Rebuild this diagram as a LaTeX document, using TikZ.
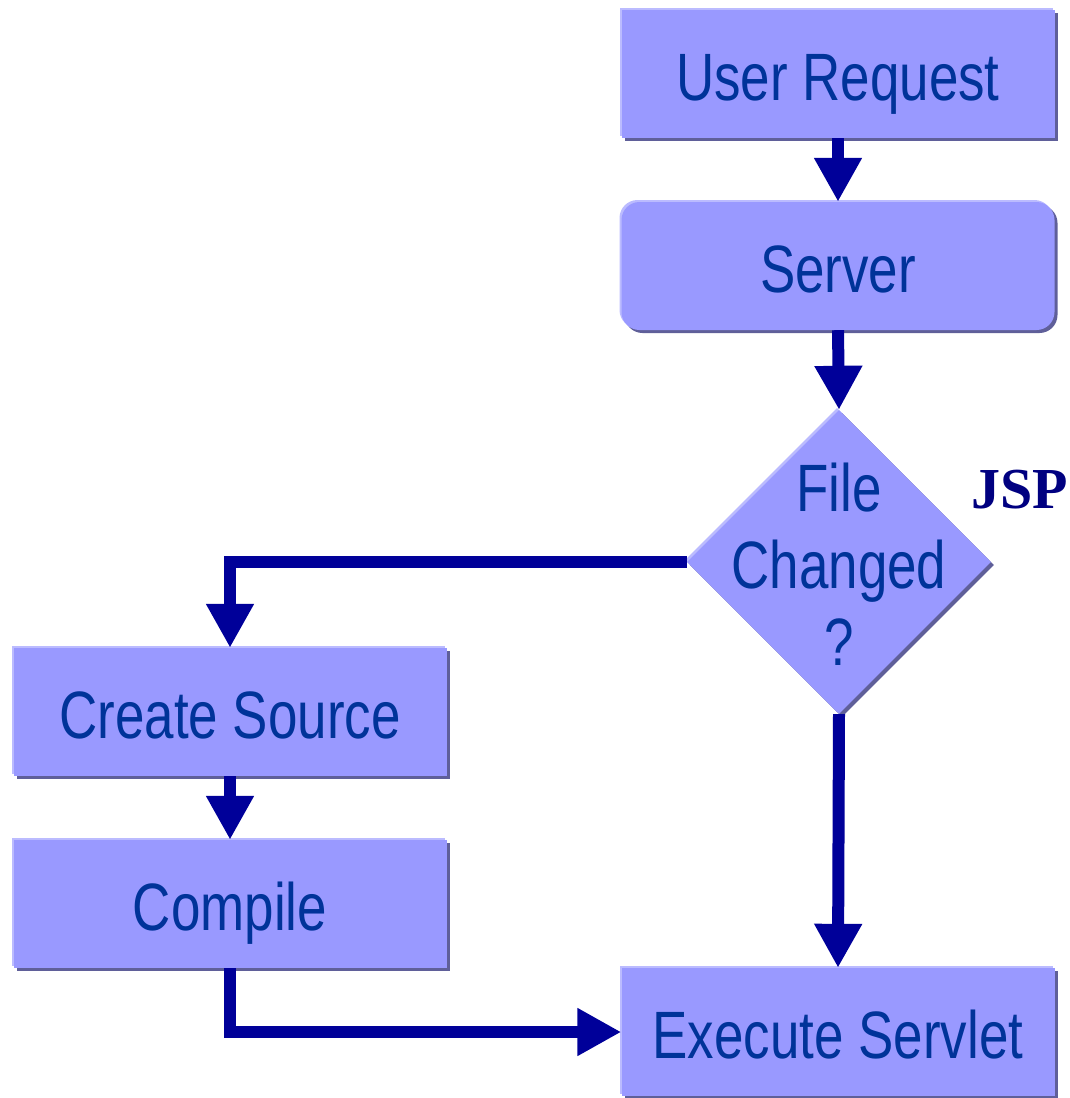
\documentclass[tikz,border=0pt]{standalone}
\usepackage{fontspec}
\setmainfont{Liberation Sans}[FakeStretch=0.79]
\newfontfamily\jspfont{Liberation Serif}
\usetikzlibrary{arrows.meta,shapes.geometric,shadows}

\definecolor{boxfill}{HTML}{9999FF}
\definecolor{boxrim}{HTML}{BBBBFF}
\definecolor{boxshade}{HTML}{5F5F99}
\definecolor{boxtext}{HTML}{003399}
\definecolor{flow}{HTML}{000099}
\definecolor{jspcol}{HTML}{000080}

\tikzset{
  rims/.style={
    general shadow={shadow xshift=-2pt, shadow yshift=2pt, fill=boxrim},
    general shadow={shadow xshift=3pt, shadow yshift=-3pt, fill=boxshade}},
  labelfont/.style={text=boxtext, font=\fontsize{67}{77}\selectfont},
  procbox/.style={rims, rectangle, fill=boxfill, minimum width=433pt,
    minimum height=128pt, inner sep=0pt, labelfont,
    text height=52pt, text depth=0pt},
  serverbox/.style={procbox, rounded corners=18pt},
  decision/.style={rims, diamond, fill=boxfill, minimum width=304pt,
    minimum height=304pt, inner sep=0pt},
  decisiontext/.style={labelfont, align=center, inner sep=0pt},
  flowarrow/.style={draw=flow, line width=12pt,
    -{Triangle[width=45pt,length=44pt]}},
}

\begin{document}
\begin{tikzpicture}[x=1pt, y=-1pt]
  \useasboundingbox (0,0) rectangle (1070,1098);

  % process steps
  \node[procbox]   (req)    at (838,74)   {User Request};
  \node[serverbox] (server) at (838,266)  {Server};
  \node[decision]  (dia)    at (839,562)  {};
  \node[decisiontext] (diatext) at (839,564) {File\\Changed\\?};
  \node[procbox]   (create) at (230,712)  {Create Source};
  \node[procbox]   (comp)   at (230,904)  {Compile};
  \node[procbox]   (exec)   at (838,1032) {Execute Servlet};

  \node[text=jspcol, font=\jspfont\bfseries\fontsize{58}{60}\selectfont,
        inner sep=0pt] (jsp) at (1020,490) {JSP};

  % connectors
  \draw[flowarrow] (req.south) -- (server.north);
  \draw[flowarrow] (server.south) -- (dia.north);
  \draw[flowarrow] (dia.west) -| (create.north);
  \draw[flowarrow] (create.south) -- (comp.north);
  \draw[flowarrow] (dia.south) -- (exec.north);
  \draw[flowarrow] (comp.south) |- (exec.west);
\end{tikzpicture}
\end{document}
